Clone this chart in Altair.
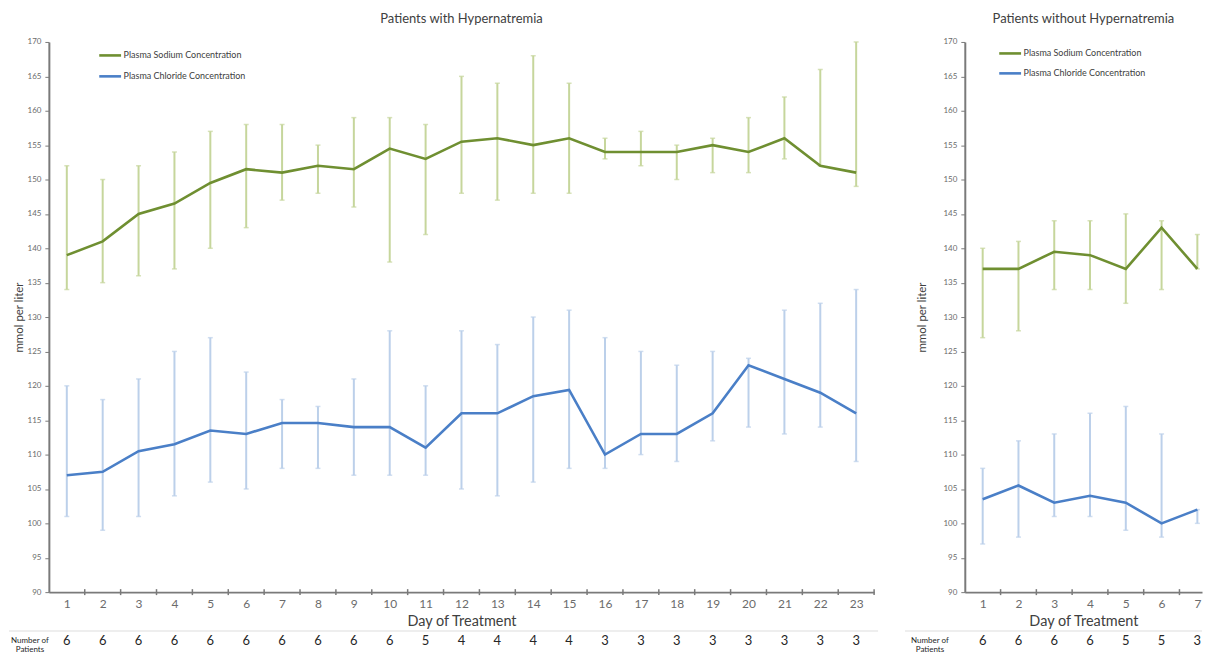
import altair as alt
import pandas as pd

# ---------------- data ----------------
days_hyper = list(range(1, 24))
na_hyper_mean = [139, 141, 145, 146.5, 149.5, 151.5, 151, 152, 151.5, 154.5, 153, 155.5,
                 156, 155, 156, 154, 154, 154, 155, 154, 156, 152, 151]
na_hyper_low = [134, 135, 136, 137, 140, 143, 147, 148, 146, 138, 142, 148,
                147, 148, 148, 153, 152, 150, 151, 151, 153, 152, 149]
na_hyper_high = [152, 150, 152, 154, 157, 158, 158, 155, 159, 159, 158, 165,
                 164, 168, 164, 156, 157, 155, 156, 159, 162, 166, 170]
cl_hyper_mean = [107, 107.5, 110.5, 111.5, 113.5, 113, 114.6, 114.6, 114, 114, 111, 116,
                 116, 118.5, 119.4, 110, 113, 113, 116, 123, 121, 119, 116]
cl_hyper_low = [101, 99, 101, 104, 106, 105, 108, 108, 107, 107, 107, 105,
                104, 106, 108, 108, 110, 109, 112, 114, 113, 114, 109]
cl_hyper_high = [120, 118, 121, 125, 127, 122, 118, 117, 121, 128, 120, 128,
                 126, 130, 131, 127, 125, 123, 125, 124, 131, 132, 134]
n_hyper = [6, 6, 6, 6, 6, 6, 6, 6, 6, 6, 5, 4, 4, 4, 4, 3, 3, 3, 3, 3, 3, 3, 3]

days_non = [1, 2, 3, 4, 5, 6, 7]
na_non_mean = [137, 137, 139.5, 139, 137, 143, 137]
na_non_low = [127, 128, 134, 134, 132, 134, 137]
na_non_high = [140, 141, 144, 144, 145, 144, 142]
cl_non_mean = [103.5, 105.5, 103, 104, 103, 100, 102]
cl_non_low = [97, 98, 101, 101, 99, 98, 100]
cl_non_high = [108, 112, 113, 116, 117, 113, 102]
n_non = [6, 6, 6, 6, 5, 5, 3]

NA = "Plasma Sodium Concentration"
CL = "Plasma Chloride Concentration"
series_names = [NA, CL]
line_colors = ["#6f8f31", "#4a7fc7"]
bar_colors = ["#c6d69c", "#bcd0ea"]

FONT = "Lato"
AXIS_COLOR = "#7a7a7a"
H = 552


def panel(title, days, na_m, na_lo, na_hi, cl_m, cl_lo, cl_hi, n, width, xmax,
          ytitle_pad, num_x, sep_x0, sep_x1, leg_x, leg_y, leg_pad):
    rows = []
    for i, d in enumerate(days):
        rows.append({"day": d, "series": NA, "mean": na_m[i], "lo": na_lo[i], "hi": na_hi[i]})
        rows.append({"day": d, "series": CL, "mean": cl_m[i], "lo": cl_lo[i], "hi": cl_hi[i]})
    df = pd.DataFrame(rows)

    xscale = alt.Scale(domain=[0.5, xmax], nice=False, zero=False)
    yscale = alt.Scale(domain=[90, 170], nice=False, zero=False)
    x_axis = alt.Axis(values=days, ticks=False, grid=False, title="Day of Treatment",
                      labelFontSize=12, labelColor="#6b6b6b", labelPadding=6,
                      labelOverlap=False, labelBound=False, labelFlush=False,
                      titleFontSize=14.5, titleColor="#404040", titleFontWeight="normal",
                      titlePadding=5, domainColor=AXIS_COLOR, domainWidth=2,
                      labelFont=FONT, titleFont=FONT)
    y_axis = alt.Axis(values=list(range(90, 171, 5)), grid=False, title="mmol per liter",
                      labelFontSize=8, labelColor="#6b6b6b", tickSize=4, tickColor=AXIS_COLOR,
                      labelPadding=4, labelOverlap=False, labelBound=False, labelFlush=False,
                      titleFontSize=11.5, titleColor="#404040",
                      titleFontWeight="normal", titlePadding=ytitle_pad,
                      domainColor=AXIS_COLOR, domainWidth=2, labelFont=FONT, titleFont=FONT)

    def X(field):
        return alt.X(field, scale=xscale, axis=x_axis)

    def Y(field):
        return alt.Y(field, scale=yscale, axis=y_axis)

    layers = []
    for s, c in zip(series_names, bar_colors):
        sub = df[df.series == s]
        layers.append(alt.Chart(sub).mark_rule(color=c, strokeWidth=2).encode(
            x=X("day:Q"), y=Y("lo:Q"), y2="hi:Q"))
        layers.append(alt.Chart(sub).mark_tick(color=c, thickness=1.5, size=5,
                                               orient="horizontal").encode(
            x=X("day:Q"), y=Y("lo:Q")))
        layers.append(alt.Chart(sub).mark_tick(color=c, thickness=1.5, size=5,
                                               orient="horizontal").encode(
            x=X("day:Q"), y=Y("hi:Q")))

    layers.append(alt.Chart(df).mark_line(strokeWidth=2.6).encode(
        x=X("day:Q"),
        y=Y("mean:Q"),
        color=alt.Color("series:N",
                        scale=alt.Scale(domain=series_names, range=line_colors),
                        legend=alt.Legend(orient="none", legendX=leg_x, legendY=leg_y,
                                          title=None, symbolType="stroke",
                                          symbolStrokeWidth=2.6, symbolSize=480,
                                          labelFontSize=9, labelColor="#404040",
                                          labelFont=FONT, rowPadding=leg_pad, labelOffset=1))
    ))

    # tick marks between day categories on the x axis
    bounds = pd.DataFrame({"b": [d + 0.5 for d in days if d + 0.5 <= xmax]})
    layers.append(alt.Chart(bounds).mark_rule(color=AXIS_COLOR, strokeWidth=1.5).encode(
        x=X("b:Q"), y=alt.value(H - 3), y2=alt.value(H + 3)))

    # number of patients row
    ndf = pd.DataFrame({"day": days, "n": n})
    layers.append(alt.Chart(ndf).mark_text(fontSize=13, color="#262626", font=FONT,
                                           baseline="middle").encode(
        x=X("day:Q"), y=alt.value(H + 49), text="n:N"))
    one = pd.DataFrame({"k": [0]})
    layers.append(alt.Chart(one).mark_text(fontSize=8, color="#262626", font=FONT,
                                           baseline="middle", lineHeight=9).encode(
        x=alt.value(num_x), y=alt.value(H + 49), text=alt.value(["Number of", "Patients"])))
    layers.append(alt.Chart(one).mark_rule(color="#dddddd", strokeWidth=1).encode(
        x=alt.value(sep_x0), x2=alt.value(sep_x1), y=alt.value(H + 39)))

    return alt.layer(*layers).properties(
        width=width, height=H,
        title=alt.TitleParams(title, fontSize=13, color="#404040", fontWeight="normal",
                              font=FONT, offset=12))


left = panel("Patients with Hypernatremia", days_hyper, na_hyper_mean, na_hyper_low,
             na_hyper_high, cl_hyper_mean, cl_hyper_low, cl_hyper_high, n_hyper,
             width=828, xmax=23.5, ytitle_pad=3, num_x=-19, sep_x0=-40, sep_x1=832,
             leg_x=49, leg_y=1, leg_pad=3)
right = panel("Patients without Hypernatremia", days_non, na_non_mean, na_non_low,
              na_non_high, cl_non_mean, cl_non_low, cl_non_high, n_non,
              width=238, xmax=7.13, ytitle_pad=16, num_x=-35, sep_x0=-60, sep_x1=238,
              leg_x=33, leg_y=-1, leg_pad=2)

chart = alt.hconcat(left, right, spacing=25).resolve_scale(color="independent").properties(
    padding={"left": 0, "top": 4, "right": 0, "bottom": 0},
    background="white"
).configure_view(strokeWidth=0)

chart.save("out.html", embed_options={"renderer": "svg", "actions": False})
